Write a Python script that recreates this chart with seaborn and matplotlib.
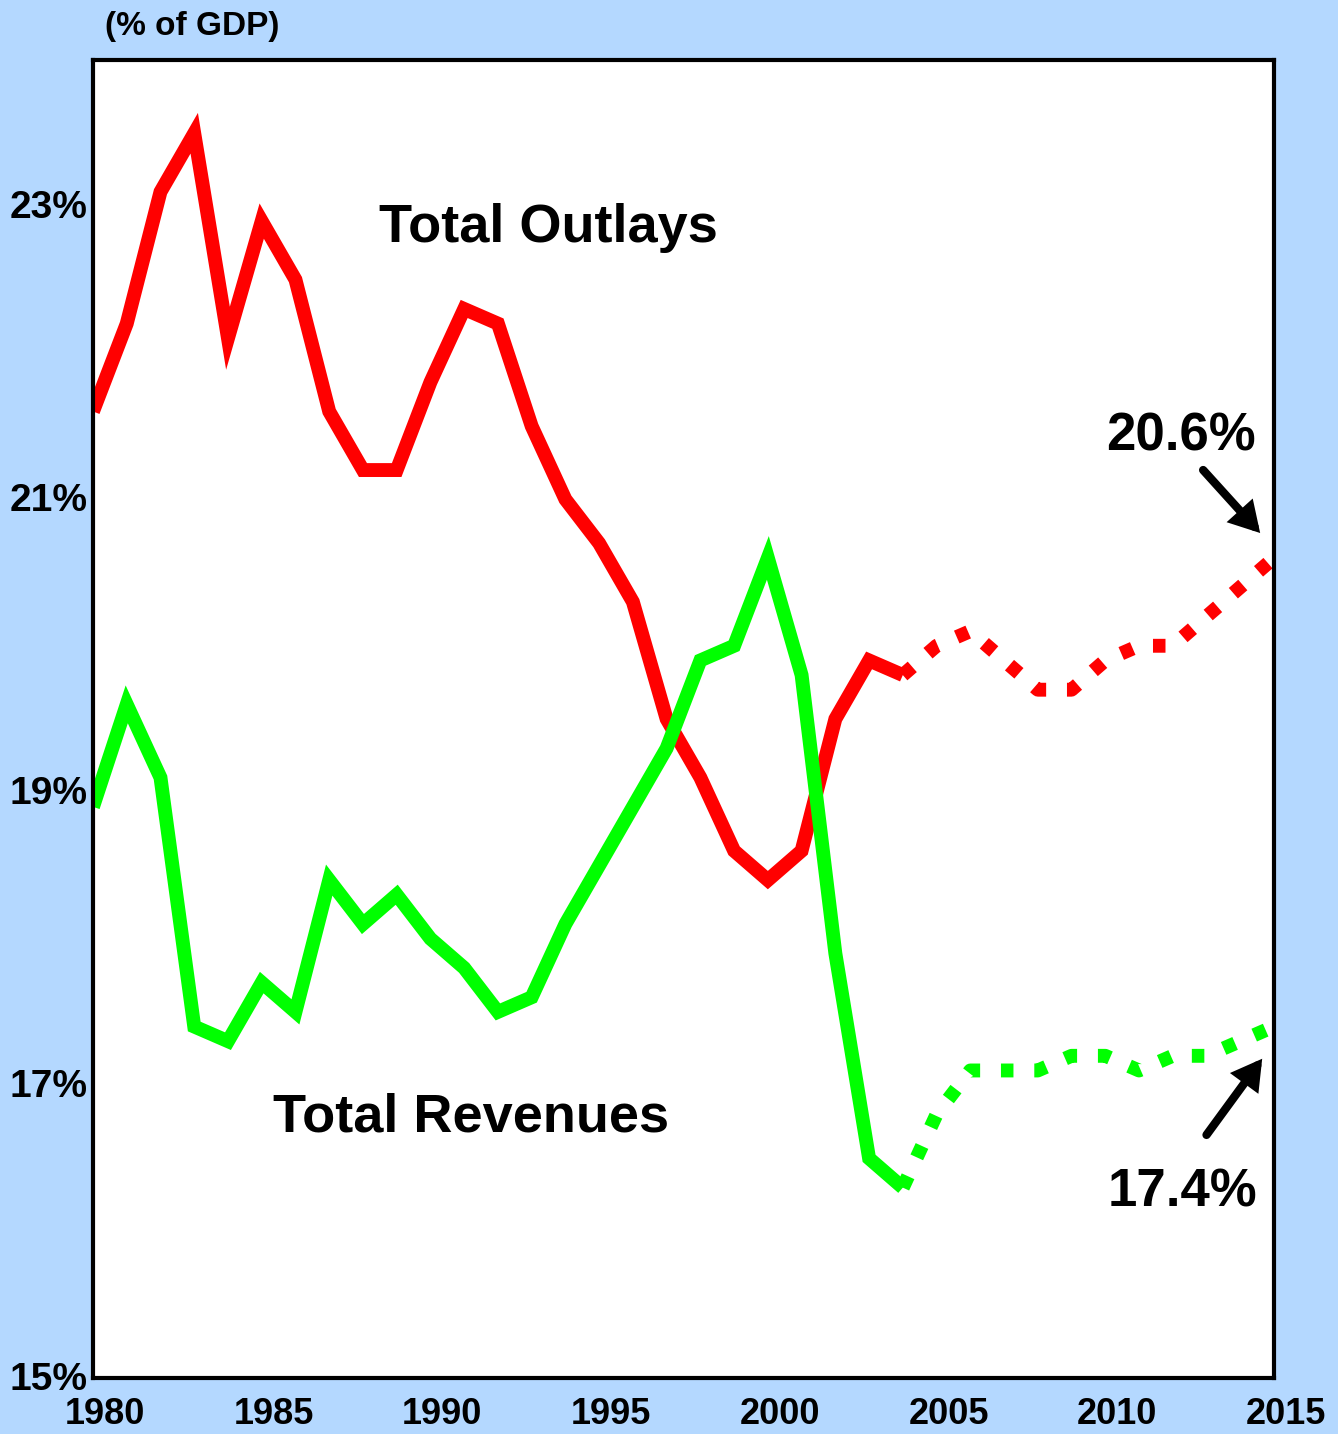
import pandas as pd
import matplotlib
matplotlib.use("Agg")
import matplotlib.pyplot as plt
import matplotlib.transforms as mtransforms
import seaborn as sns

years = list(range(1980, 2016))
outlays = [21.6, 22.2, 23.1, 23.5, 22.1, 22.9, 22.5, 21.6, 21.2, 21.2,
           21.8, 22.3, 22.2, 21.5, 21.0, 20.7, 20.3, 19.5, 19.1, 18.6,
           18.4, 18.6, 19.5, 19.9, 19.8, 20.0, 20.1, 19.9, 19.7, 19.7,
           19.9, 20.0, 20.0, 20.2, 20.4, 20.6]
revenues = [18.9, 19.6, 19.1, 17.4, 17.3, 17.7, 17.5, 18.4, 18.1, 18.3,
            18.0, 17.8, 17.5, 17.6, 18.1, 18.5, 18.9, 19.3, 19.9, 20.0,
            20.6, 19.8, 17.9, 16.5, 16.3, 16.8, 17.1, 17.1, 17.1, 17.2,
            17.2, 17.1, 17.2, 17.2, 17.3, 17.4]
last_actual = 2004

x_ticks = [1980, 1985, 1990, 1995, 2000, 2005, 2010, 2015]
y_ticks = [15, 17, 19, 21, 23]
y_tick_labels = ["15%", "17%", "19%", "21%", "23%"]

bg = "#B4D8FF"
red = "#FF0000"
green = "#00FF00"

df = pd.DataFrame({"year": years, "outlays": outlays, "revenues": revenues})
actual = df[df["year"] <= last_actual]
proj = df[df["year"] >= last_actual]

sns.set_style("white")
plt.rcParams["font.family"] = ["Liberation Sans", "DejaVu Sans"]
plt.rcParams["font.weight"] = "bold"
plt.rcParams["text.color"] = "black"
plt.rcParams["xtick.color"] = "black"
plt.rcParams["ytick.color"] = "black"

fig = plt.figure(figsize=(13.38, 14.34), dpi=100, facecolor=bg)
ax = fig.add_axes([93 / 1338, 56 / 1434, (1274 - 93) / 1338, (1378 - 60) / 1434])
ax.set_facecolor("white")

lw = 10
sns.lineplot(data=actual, x="year", y="outlays", color=red, lw=lw, ax=ax,
             solid_capstyle="butt", solid_joinstyle="miter")
sns.lineplot(data=actual, x="year", y="revenues", color=green, lw=lw, ax=ax,
             solid_capstyle="butt", solid_joinstyle="miter")
sns.lineplot(data=proj, x="year", y="outlays", color=red, lw=lw, ax=ax,
             linestyle=(0, (0.9, 1.5)), dash_capstyle="butt")
sns.lineplot(data=proj, x="year", y="revenues", color=green, lw=lw, ax=ax,
             linestyle=(0, (0.9, 1.5)), dash_capstyle="butt")

ax.set_xlim(1980, 2015)
ax.set_ylim(15, 24)
ax.set_xticks(x_ticks)
ax.set_xticklabels([str(t) for t in x_ticks], fontsize=26, fontweight="bold")
ax.set_yticks(y_ticks)
ax.set_yticklabels(y_tick_labels, fontsize=28, fontweight="bold")
ax.tick_params(length=0, pad=4)
ax.tick_params(axis="x", pad=14)
ax.set_xlabel("")
ax.set_ylabel("")
for lab in ax.get_xticklabels():
    lab.set_transform(lab.get_transform() +
                      mtransforms.ScaledTranslation(12 / 100, 0, fig.dpi_scale_trans))
for lab in ax.get_yticklabels():
    lab.set_verticalalignment("center")
    lab.set_transform(lab.get_transform() +
                      mtransforms.ScaledTranslation(0, -2 / 100, fig.dpi_scale_trans))

for sp in ax.spines.values():
    sp.set_visible(True)
    sp.set_color("black")
    sp.set_linewidth(3)

fig.text(105 / 1338, 1 - 27 / 1434, "(% of GDP)", fontsize=24, fontweight="bold",
         ha="left", va="center")

ax.text(1993.5, 22.85, "Total Outlays", fontsize=39, fontweight="bold",
        ha="center", va="center")
ax.text(1991.2, 16.78, "Total Revenues", fontsize=39, fontweight="bold",
        ha="center", va="center")

ax.text(2012.25, 21.43, "20.6%", fontsize=38, fontweight="bold",
        ha="center", va="center")
ax.text(2012.3, 16.27, "17.4%", fontsize=38, fontweight="bold",
        ha="center", va="center")

arrow = dict(arrowstyle="-|>,head_length=1.3,head_width=0.75", color="black",
             lw=6, shrinkA=0, shrinkB=0, joinstyle="miter")
ax.annotate("", xy=(2014.59, 20.77), xytext=(2012.9, 21.2), arrowprops=arrow)
ax.annotate("", xy=(2014.65, 17.18), xytext=(2013.0, 16.66), arrowprops=arrow)

fig.savefig("out.png", dpi=100, facecolor=bg)
